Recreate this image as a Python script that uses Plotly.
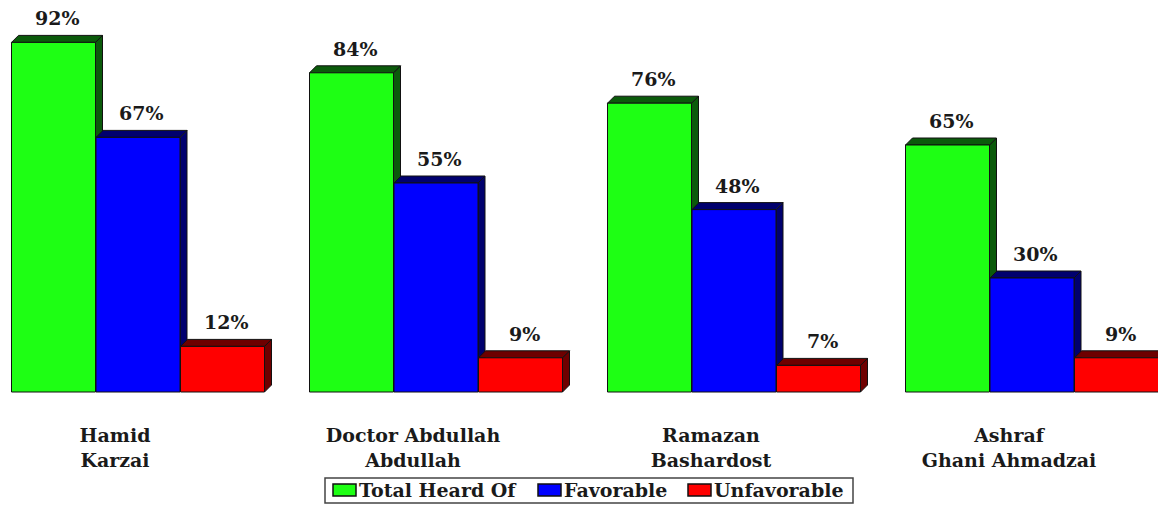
import plotly.graph_objects as go

categories = ["Hamid<br>Karzai", "Doctor Abdullah<br>Abdullah",
              "Ramazan<br>Bashardost", "Ashraf<br>Ghani Ahmadzai"]
series_names = ["Total Heard Of", "Favorable", "Unfavorable"]
total_heard = [92, 84, 76, 65]
favorable = [67, 55, 48, 30]
unfavorable = [12, 9, 7, 9]
series_values = [total_heard, favorable, unfavorable]

front_colors = ["#1eff14", "#0000ff", "#ff0000"]
dark_colors = ["#0b5a0b", "#00006e", "#6e0000"]

# page body has an 8px margin: figure pixel = screen pixel - 8
OFF = 8
W, H = 1166 - OFF, 506 - OFF
PX_PER_X = 298.0
PX_PER_Y = 3.8
PLOT_BOTTOM_PX = 422 - OFF
BASE_PX = 392 - OFF
X0_PX = 138 - OFF

bar_w = 84 / PX_PER_X
step = 84.5 / PX_PER_X
dx = 7 / PX_PER_X
dy = 7 / PX_PER_Y

font_family = "DejaVu Serif"
text_col = "#1a1a1a"
fsize = 19

fig = go.Figure()
shapes = []
annotations = []

group_idx = list(range(len(categories)))

for gi in group_idx:
    for si, vals in enumerate(series_values):
        v = vals[gi]
        xc = gi + (si - 1) * step
        x0 = xc - bar_w / 2
        x1 = xc + bar_w / 2
        shapes.append(dict(
            type="path", xref="x", yref="y", layer="below",
            path=f"M{x1},{0} L{x1+dx},{dy} L{x1+dx},{v+dy} L{x1},{v} Z",
            fillcolor=dark_colors[si], line=dict(color="#111111", width=1)))
        shapes.append(dict(
            type="path", xref="x", yref="y", layer="below",
            path=f"M{x0},{v} L{x0+dx},{v+dy} L{x1+dx},{v+dy} L{x1},{v} Z",
            fillcolor=dark_colors[si], line=dict(color="#111111", width=1)))
        annotations.append(dict(
            x=xc + dx / 2, y=v + dy, xref="x", yref="y",
            text=f"<b>{v}%</b>", showarrow=False, yanchor="bottom",
            yshift=4, font=dict(family=font_family, size=fsize, color=text_col)))

for si, vals in enumerate(series_values):
    fig.add_trace(go.Bar(
        x=[g + (si - 1) * step for g in group_idx],
        y=vals, width=bar_w, name=series_names[si],
        marker=dict(color=front_colors[si], line=dict(color="#111111", width=1)),
        showlegend=False, hoverinfo="skip"))

def px_x(p):
    return (p - OFF) / W

def px_y(p):
    return (PLOT_BOTTOM_PX - (p - OFF)) / PLOT_BOTTOM_PX

shapes.append(dict(type="rect", xref="paper", yref="paper",
                   x0=px_x(325), x1=px_x(853), y0=px_y(503), y1=px_y(478),
                   line=dict(color="#444444", width=1.5), fillcolor="rgba(0,0,0,0)"))
legend_swatch_px = [(333, 356), (538, 561), (688, 711)]
for si, (a, b) in enumerate(legend_swatch_px):
    shapes.append(dict(type="rect", xref="paper", yref="paper",
                       x0=px_x(a), x1=px_x(b), y0=px_y(496), y1=px_y(484),
                       line=dict(color="#111111", width=1.5),
                       fillcolor=front_colors[si]))
    annotations.append(dict(
        x=px_x(b + 1), y=px_y(490), xref="paper", yref="paper",
        text=f"<b>{series_names[si]}</b>", showarrow=False,
        xanchor="left", yanchor="middle",
        font=dict(family=font_family, size=fsize, color=text_col)))

label_offset = -23 / PX_PER_X

fig.update_layout(
    width=W, height=H,
    margin=dict(l=0, r=0, t=0, b=H - PLOT_BOTTOM_PX, pad=0),
    paper_bgcolor="white", plot_bgcolor="white",
    barmode="overlay",
    shapes=shapes, annotations=annotations,
    xaxis=dict(
        range=[-X0_PX / PX_PER_X, (W - X0_PX) / PX_PER_X],
        tickvals=[g + label_offset for g in group_idx],
        ticktext=[f"<b>{c}</b>" for c in categories],
        tickfont=dict(family=font_family, size=fsize, color=text_col),
        showgrid=False, zeroline=False, showline=False, ticks="",
        ticklabelstandoff=0),
    yaxis=dict(
        range=[-(PLOT_BOTTOM_PX - BASE_PX) / PX_PER_Y, BASE_PX / PX_PER_Y],
        visible=False, showgrid=False, zeroline=False),
)

fig.write_html("out.html")
